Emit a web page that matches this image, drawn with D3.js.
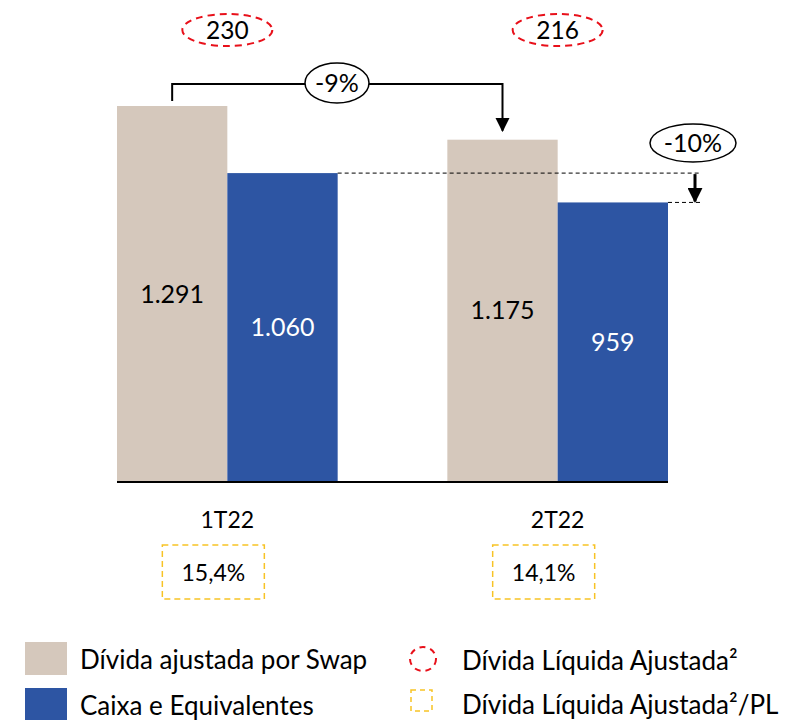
<!DOCTYPE html>
<html>
<head>
<meta charset="utf-8">
<script src="https://cdn.jsdelivr.net/npm/d3@7"></script>
<style>
  body { margin: 0; background: #fff; }
  svg { font-family: Lato, "Open Sans", sans-serif; }
</style>
</head>
<body>
<div id="chart"></div>
<script>
var periods = ['1T22', '2T22'];
var divida = [1291, 1175];
var caixa = [1060, 959];
var liquida = [230, 216];
var liquidaPL = ['15,4%', '14,1%'];
var seriesNames = ['Dívida ajustada por Swap', 'Caixa e Equivalentes'];
var fmt = d3.formatLocale({decimal: ',', thousands: '.', grouping: [3]}).format(',');

var colors = ['#d5c8bc', '#2d55a3'];

var width = 790, height = 720;
var svg = d3.select('#chart').append('svg')
    .attr('width', width)
    .attr('height', height);

var x0 = d3.scaleBand().domain(periods).range([117, 668]).paddingInner(0.332).paddingOuter(0);
var x1 = d3.scaleBand().domain([0, 1]).range([0, x0.bandwidth()]);
var y = d3.scaleLinear().domain([0, 1291]).range([481, 106]);

var data = periods.map(function(p, i){
    return {period: p, values: [divida[i], caixa[i]]};
});

// bars
var groups = svg.selectAll('.grp')
    .data(data)
    .enter()
    .append('g')
    .attr('transform', function(d){ return 'translate(' + x0(d.period) + ',0)'; });

groups.selectAll('rect')
    .data(function(d){ return d.values; })
    .enter()
    .append('rect')
    .attr('x', function(d, i){ return x1(i); })
    .attr('width', x1.bandwidth())
    .attr('y', function(d){ return y(d); })
    .attr('height', function(d){ return y(0) - y(d); })
    .style('fill', function(d, i){ return colors[i]; });

groups.selectAll('.val')
    .data(function(d){ return d.values; })
    .enter()
    .append('text')
    .attr('x', function(d, i){ return x1(i) + x1.bandwidth() / 2; })
    .attr('y', function(d){ return (y(d) + y(0)) / 2 + 9; })
    .attr('text-anchor', 'middle')
    .style('font-size', '25px')
    .style('fill', function(d, i){ return i ? '#fff' : '#000'; })
    .text(function(d){ return fmt(d); });

// axis line
svg.append('line')
    .attr('x1', x0(periods[0])).attr('x2', x0(periods[1]) + x0.bandwidth())
    .attr('y1', y(0) + 1).attr('y2', y(0) + 1)
    .style('stroke', '#000').style('stroke-width', 2);

// category labels
svg.selectAll('.cat')
    .data(periods)
    .enter()
    .append('text')
    .attr('x', function(d){ return x0(d) + x0.bandwidth() / 2; })
    .attr('y', 528)
    .attr('text-anchor', 'middle')
    .style('font-size', '23px')
    .text(function(d){ return d; });

// ratio boxes
periods.forEach(function(p, i){
    var cx = x0(p) + x0.bandwidth() / 2 - 14;
    svg.append('rect')
        .attr('x', cx - 51).attr('y', 545)
        .attr('width', 102).attr('height', 54)
        .style('fill', 'none').style('stroke', '#f7c325')
        .style('stroke-width', 1.5).style('stroke-dasharray', '6,4');
    svg.append('text')
        .attr('x', cx).attr('y', 581)
        .attr('text-anchor', 'middle')
        .style('font-size', '23px')
        .text(liquidaPL[i]);
});

// net debt ellipses
periods.forEach(function(p, i){
    var cx = x0(p) + x0.bandwidth() / 2;
    svg.append('ellipse')
        .attr('cx', cx).attr('cy', 30).attr('rx', 45).attr('ry', 16)
        .style('fill', 'none').style('stroke', '#e8101a')
        .style('stroke-width', 2).style('stroke-dasharray', '7,5');
    svg.append('text')
        .attr('x', cx).attr('y', 39)
        .attr('text-anchor', 'middle')
        .style('font-size', '24.5px')
        .text(liquida[i]);
});

// arrow marker
svg.append('defs').append('marker')
    .attr('id', 'arr')
    .attr('viewBox', '0 0 10 10')
    .attr('refX', 9).attr('refY', 5)
    .attr('markerWidth', 7).attr('markerHeight', 8)
    .attr('markerUnits', 'strokeWidth')
    .attr('orient', 'auto')
    .append('path').attr('d', 'M0,0L10,5L0,10Z').style('fill', '#000');
svg.select('defs').append('marker')
    .attr('id', 'arr2')
    .attr('viewBox', '0 0 10 10')
    .attr('refX', 9).attr('refY', 5)
    .attr('markerWidth', 5).attr('markerHeight', 5)
    .attr('markerUnits', 'strokeWidth')
    .attr('orient', 'auto')
    .append('path').attr('d', 'M0,0L10,5L0,10Z').style('fill', '#000');

// -9% bracket
var bx1 = x0(periods[0]) + x1.bandwidth() / 2;
var bx2 = x0(periods[1]) + x1.bandwidth() / 2;
svg.append('path')
    .attr('d', 'M' + bx1 + ',' + (y(divida[0]) - 5) + 'V84H' + bx2 + 'V' + (y(divida[1]) - 9))
    .style('fill', 'none').style('stroke', '#000').style('stroke-width', 2)
    .attr('marker-end', 'url(#arr)');
svg.append('ellipse')
    .attr('cx', 337).attr('cy', 83).attr('rx', 32).attr('ry', 20)
    .style('fill', '#fff').style('stroke', '#000').style('stroke-width', 1.5);
svg.append('text')
    .attr('x', 337).attr('y', 92)
    .attr('text-anchor', 'middle')
    .style('font-size', '25px')
    .text('-9%');

// -10% dashed references
var cEnd = x0(periods[1]) + x0.bandwidth();
svg.append('line')
    .attr('x1', x0(periods[0]) + x0.bandwidth()).attr('x2', 700)
    .attr('y1', y(caixa[0])).attr('y2', y(caixa[0]))
    .style('stroke', '#000').style('stroke-width', 1).style('stroke-dasharray', '4,3');
svg.append('line')
    .attr('x1', cEnd).attr('x2', 702)
    .attr('y1', y(caixa[1])).attr('y2', y(caixa[1]))
    .style('stroke', '#000').style('stroke-width', 1).style('stroke-dasharray', '4,3');
svg.append('line')
    .attr('x1', 695).attr('x2', 695)
    .attr('y1', y(caixa[0]) + 1).attr('y2', y(caixa[1]) - 1)
    .style('stroke', '#000').style('stroke-width', 3)
    .attr('marker-end', 'url(#arr2)');
svg.append('ellipse')
    .attr('cx', 693).attr('cy', 143).attr('rx', 43).attr('ry', 19)
    .style('fill', '#fff').style('stroke', '#000').style('stroke-width', 1.5);
svg.append('text')
    .attr('x', 693).attr('y', 152)
    .attr('text-anchor', 'middle')
    .style('font-size', '25px')
    .text('-10%');

// legend
seriesNames.forEach(function(n, i){
    svg.append('rect')
        .attr('x', 25).attr('y', 642 + i * 46)
        .attr('width', 42).attr('height', 33)
        .style('fill', colors[i]);
    svg.append('text')
        .attr('x', 80).attr('y', 669 + i * 46)
        .style('font-size', '26px')
        .text(n);
});
svg.append('ellipse')
    .attr('cx', 423).attr('cy', 659).attr('rx', 13).attr('ry', 12)
    .style('fill', 'none').style('stroke', '#e8101a')
    .style('stroke-width', 2).style('stroke-dasharray', '6,5');
svg.append('text')
    .attr('x', 462).attr('y', 670)
    .style('font-size', '26px')
    .text('Dívida Líquida Ajustada²');
svg.append('rect')
    .attr('x', 411).attr('y', 690).attr('width', 21).attr('height', 21)
    .style('fill', 'none').style('stroke', '#f7c325')
    .style('stroke-width', 1.5).style('stroke-dasharray', '5,4');
svg.append('text')
    .attr('x', 462).attr('y', 714)
    .style('font-size', '26px')
    .text('Dívida Líquida Ajustada²/PL');
</script>
</body>
</html>
